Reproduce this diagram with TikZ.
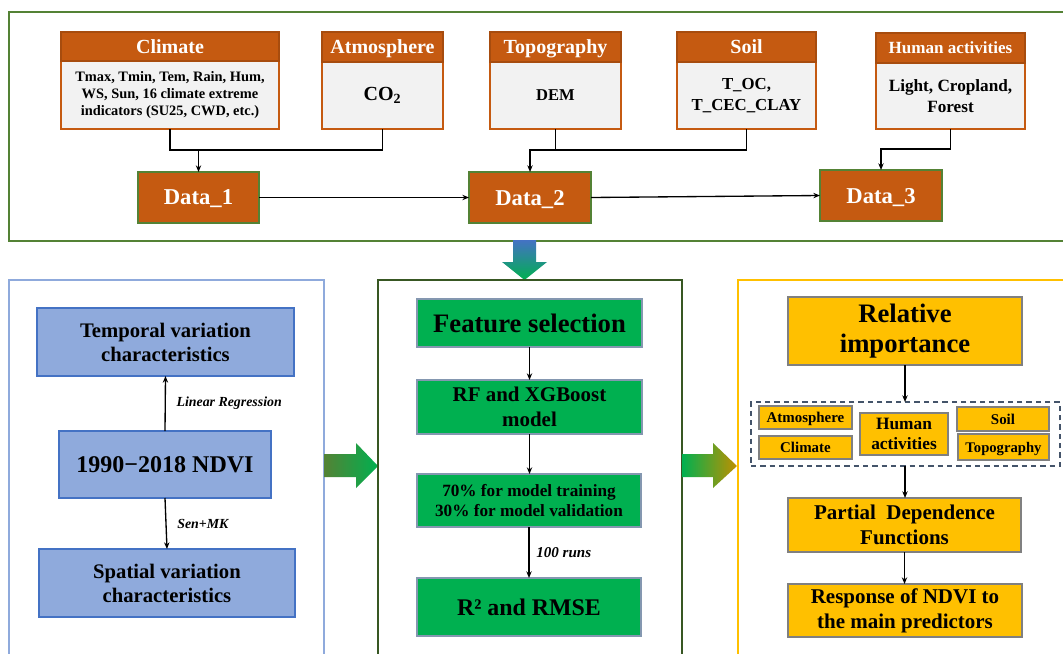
\documentclass[tikz,border=0pt]{standalone}
\usepackage{fontspec}
\setmainfont{Liberation Serif}
\usetikzlibrary{arrows.meta}
\definecolor{brn}{HTML}{C55A11}
\definecolor{lgr}{HTML}{F2F2F2}
\definecolor{olv}{HTML}{548235}
\definecolor{dgr}{HTML}{385723}
\definecolor{lbl}{HTML}{8FAADC}
\definecolor{dbl}{HTML}{4472C4}
\definecolor{grn}{HTML}{00B050}
\definecolor{gld}{HTML}{FFC000}
\definecolor{dgld}{HTML}{BF9000}
\definecolor{slate}{HTML}{44546A}
\definecolor{gbord}{HTML}{8497B0}
\newcommand\fz[2]{\fontsize{#1}{#2}\selectfont}
\newcommand\mybox[7]{\pgfmathsetmacro\myW{(#4-#2)*0.75}\pgfmathsetmacro\myH{(#5-#3)*0.75}\node[#6,minimum width=\myW pt,minimum height=\myH pt] (#1) at ({(#2+#4)/2},{(#3+#5)/2}) {#7};}
\tikzset{
  base/.style={rectangle, inner sep=1pt, outer sep=0pt, align=center},
  capc/.style={text depth=0pt},
  hdr/.style={base, capc, fill=brn, draw=brn!85!black, line width=0.8pt, text=white},
  bod/.style={base, fill=lgr, draw=brn, line width=0.8pt},
  dat/.style={base, capc, fill=brn, draw=olv, line width=1pt, text=white},
  bbx/.style={base, fill=lbl, draw=dbl, line width=1.2pt},
  gbx/.style={base, fill=grn, draw=gbord, line width=0.8pt},
  ybx/.style={base, fill=gld, draw=gray, line width=0.8pt},
  grpbox/.style={base, draw=slate, line width=1.1pt, dash pattern=on 4pt off 3pt},
  conn/.style={line width=1pt, draw=black},
  arr/.style={conn, -{Stealth[length=5pt,width=4pt]}},
  lab/.style={font=\bfseries\itshape\fz{10.4}{12}, anchor=west, inner sep=0pt},
  panel/.style={line width=2.2pt}
}
\begin{document}
\begin{tikzpicture}[x=0.75pt,y=-0.75pt]
\useasboundingbox (0,0) rectangle (1063,653);
\clip (0,0) rectangle (1063,653);
\fill[white] (0,0) rectangle (1063,653);

% ---------- top frame ----------
\draw[olv, panel] (9,12) rectangle (1075,241);

\mybox{clb}{61}{61}{279}{129}{bod,font=\bfseries\fz{10.8}{12.9}}{Tmax, Tmin, Tem, Rain, Hum,\\WS, Sun, 16 climate extreme\\indicators (SU25, CWD, etc.)}
\mybox{clh}{61}{32}{279}{61}{hdr,font=\bfseries\fz{15}{18}}{Climate}
\mybox{atb}{322}{62}{443}{129}{bod,font=\bfseries\fz{15}{18}}{CO\textsubscript{2}}
\mybox{ath}{322}{32}{443}{62}{hdr,font=\bfseries\fz{15}{18}}{Atmosphere}
\mybox{tpb}{490}{62}{621}{129}{bod,font=\bfseries\fz{12.4}{15.75}}{DEM}
\mybox{tph}{490}{32}{621}{62}{hdr,font=\bfseries\fz{15}{18}}{Topography}
\mybox{slb}{677}{62}{816}{129}{bod,font=\bfseries\fz{12.6}{15.75}}{T\_OC,\\T\_CEC\_CLAY}
\mybox{slh}{677}{32}{816}{62}{hdr,font=\bfseries\fz{15}{18}}{Soil}
\mybox{hab}{876}{63}{1025}{129}{bod,font=\bfseries\fz{12.9}{15.75}}{Light, Cropland,\\Forest}
\mybox{hah}{876}{33}{1025}{63}{hdr,font=\bfseries\fz{12.8}{15}}{Human activities}

\mybox{d1}{138}{172}{259}{223}{dat,font=\bfseries\fz{17}{20}}{Data\_1}
\mybox{d2}{469}{172}{591}{223}{dat,font=\bfseries\fz{17}{20}}{Data\_2}
\mybox{d3}{820}{170}{942}{221}{dat,font=\bfseries\fz{17}{20}}{Data\_3}

\draw[conn] (clb.south) -- ++(0,21) coordinate (j1) -| (atb.south);
\draw[arr] (j1 -| d1.north) -- (d1.north);
\draw[arr] (d1.east) -- (d2.west);
\draw[conn] (tpb.south) -- ++(0,21) coordinate (j2) -| (slb.south);
\draw[arr] (j2) -| (d2.north);
\draw[arr] (d2.east) -- (d3.west);
\draw[arr] (hab.south) -- ++(0,20) -| (d3.north);

% ---------- down arrow ----------
\shade[top color=dbl, bottom color=grn] (513,240) -- (536,240) -- (536,262) -- (547,262) -- (524.5,280) -- (502,262) -- (513,262) -- cycle;

% ---------- left panel ----------
\draw[lbl, panel] (9,280) rectangle (324,680);
\mybox{tv}{37}{308}{294}{376}{bbx,font=\bfseries\fz{15.5}{18}}{Temporal variation\\characteristics}
\mybox{nd}{59}{431}{271}{498}{bbx,capc,font=\bfseries\fz{18}{21}}{1990−2018 NDVI}
\mybox{sv}{39}{549}{295}{617}{bbx,font=\bfseries\fz{15.5}{18}}{Spatial variation\\characteristics}
\draw[arr] (nd.north) -- (tv.south) node[midway, lab, xshift=8pt] {Linear Regression};
\draw[arr] (nd.south) -- (sv.south |- sv.north) node[midway, lab, xshift=8pt] {Sen+MK};

% ---------- arrow 1 ----------
\shade[left color=olv, right color=grn] (324,454) -- (356,454) -- (356,443) -- (378,466) -- (356,488) -- (356,477) -- (324,477) -- cycle;

% ---------- middle panel ----------
\draw[dgr, panel] (378,280) rectangle (682,680);
\mybox{fs}{417}{299}{642}{347}{gbx,capc,font=\bfseries\fz{20}{23}}{Feature selection}
\mybox{rf}{417}{380}{642}{434}{gbx,font=\bfseries\fz{15.7}{18.75}}{RF and XGBoost\\model}
\mybox{tt}{417}{474}{641}{527}{gbx,font=\bfseries\fz{12.9}{15.5}}{70\% for model training\\30\% for model validation}
\mybox{r2}{417}{578}{641}{636}{gbx,capc,font=\bfseries\fz{17.9}{21}}{R² and RMSE}
\draw[arr] (fs.south) -- (fs.south |- rf.north);
\draw[arr] (rf.south) -- (rf.south |- tt.north);
\draw[arr] (tt.south) -- (tt.south |- r2.north) node[midway, lab, xshift=5pt, font=\bfseries\itshape\fz{11.3}{13}] {100 runs};

% ---------- arrow 2 ----------
\shade[left color=grn, right color=dgld] (682,454) -- (713,454) -- (713,443) -- (737,466) -- (713,488) -- (713,477) -- (682,477) -- cycle;

% ---------- right panel ----------
\draw[gld, panel] (738,280) rectangle (1075,680);
\mybox{ri}{788}{297}{1022}{365}{ybx,font=\bfseries\fz{20}{22.5}}{Relative\\importance}
\mybox{grp}{751}{402}{1060}{466}{grpbox}{}
\mybox{sat}{759}{406}{852}{429}{ybx,capc,font=\bfseries\fz{11.2}{13}}{Atmosphere}
\mybox{scl}{759}{436}{852}{459}{ybx,capc,font=\bfseries\fz{11.2}{13}}{Climate}
\mybox{sha}{860}{413}{948}{455}{ybx,font=\bfseries\fz{13}{15.5}}{Human\\activities}
\mybox{ssl}{957}{407}{1049}{431}{ybx,capc,font=\bfseries\fz{11.2}{13}}{Soil}
\mybox{stp}{958}{434}{1049}{460}{ybx,capc,font=\bfseries\fz{11}{13}}{Topography}
\mybox{pdf}{788}{498}{1021}{552}{ybx,font=\bfseries\fz{15.75}{18.75}}{Partial~ Dependence\\Functions}
\mybox{rsp}{788}{584}{1022}{637}{ybx,font=\bfseries\fz{15.75}{18.75}}{Response of NDVI to\\the main predictors}
\draw[arr] (ri.south) -- (ri.south |- grp.north);
\draw[arr] (ri.south |- grp.south) -- (ri.south |- pdf.north);
\draw[arr] (pdf.south) -- (pdf.south |- rsp.north);
\end{tikzpicture}
\end{document}
